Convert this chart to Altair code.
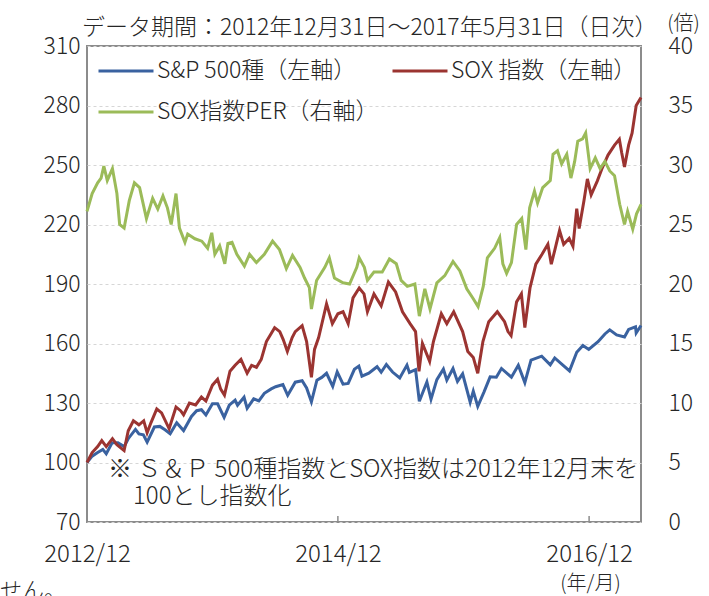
import altair as alt
import pandas as pd

# ---------------- data ----------------
series_names = ["S&P 500種（左軸）", "SOX 指数（左軸）", "SOX指数PER（右軸）"]
series_colors = ["#3A62A0", "#9B3431", "#9BBB59"]

sp_dates = [
    "2012-12-31", "2013-01-15", "2013-01-31", "2013-02-15", "2013-02-25", "2013-03-14", "2013-03-31",
    "2013-04-18", "2013-04-30", "2013-05-21", "2013-05-31", "2013-06-13", "2013-06-24", "2013-07-15",
    "2013-07-31", "2013-08-15", "2013-08-30", "2013-09-18", "2013-10-08", "2013-10-31", "2013-11-15",
    "2013-11-29", "2013-12-12", "2013-12-31", "2014-01-15", "2014-02-03", "2014-02-18", "2014-03-07",
    "2014-03-14", "2014-04-02", "2014-04-11", "2014-04-30", "2014-05-15", "2014-05-31", "2014-06-20",
    "2014-07-03", "2014-07-24", "2014-08-07", "2014-08-29", "2014-09-18", "2014-10-01", "2014-10-15",
    "2014-10-31", "2014-11-14", "2014-11-28", "2014-12-16", "2014-12-29", "2015-01-15", "2015-01-30",
    "2015-02-17", "2015-03-02", "2015-03-11", "2015-03-31", "2015-04-24", "2015-05-06", "2015-05-21",
    "2015-06-08", "2015-06-29", "2015-07-20", "2015-07-27", "2015-08-14", "2015-08-25", "2015-09-16",
    "2015-09-28", "2015-10-15", "2015-11-03", "2015-11-13", "2015-12-01", "2015-12-14", "2015-12-29",
    "2016-01-20", "2016-01-29", "2016-02-11", "2016-02-29", "2016-03-18", "2016-04-05", "2016-04-20",
    "2016-05-19", "2016-06-08", "2016-06-27", "2016-07-15", "2016-08-15", "2016-09-09", "2016-09-22",
    "2016-10-14", "2016-11-04", "2016-11-25", "2016-12-13", "2016-12-30", "2017-01-26", "2017-02-15",
    "2017-03-01", "2017-03-21", "2017-04-13", "2017-04-25", "2017-05-15", "2017-05-17", "2017-05-31",
]
sp_values = [
    100.0, 103.2, 105.0, 106.6, 104.4, 109.9, 110.0,
    108.0, 112.0, 116.7, 114.4, 114.0, 110.3, 117.9,
    118.2, 116.5, 114.5, 120.0, 116.1, 123.2, 126.1,
    126.6, 124.0, 129.6, 129.6, 122.8, 128.9, 131.4,
    128.9, 132.9, 127.3, 132.1, 131.1, 134.9, 137.1,
    138.2, 139.3, 133.9, 140.5, 141.2, 137.6, 130.6,
    141.5, 142.9, 145.0, 138.4, 145.7, 139.5, 139.9,
    147.0, 148.6, 143.5, 145.0, 148.3, 145.5, 149.4,
    145.6, 142.6, 149.1, 145.4, 146.8, 130.9, 140.6,
    131.9, 141.8, 147.1, 141.5, 147.4, 140.9, 144.7,
    130.4, 136.0, 128.3, 135.5, 143.2, 143.0, 147.4,
    143.0, 149.0, 140.3, 151.6, 153.6, 149.2, 152.7,
    149.4, 146.2, 155.6, 159.0, 157.0, 160.9, 164.8,
    166.9, 164.3, 163.3, 167.1, 168.4, 165.3, 169.1,
]

sox_dates = [
    "2012-12-31", "2013-01-15", "2013-01-31", "2013-02-12", "2013-02-25", "2013-03-15", "2013-03-28",
    "2013-04-18", "2013-04-30", "2013-05-15", "2013-05-31", "2013-06-14", "2013-06-24", "2013-07-05",
    "2013-07-22", "2013-08-05", "2013-08-27", "2013-09-16", "2013-09-30", "2013-10-08", "2013-10-25",
    "2013-11-12", "2013-11-29", "2013-12-12", "2013-12-31", "2014-01-15", "2014-01-24", "2014-02-04",
    "2014-02-20", "2014-03-07", "2014-03-24", "2014-04-11", "2014-04-24", "2014-05-08", "2014-05-22",
    "2014-06-06", "2014-06-20", "2014-06-30", "2014-07-15", "2014-07-25", "2014-08-06", "2014-08-20",
    "2014-08-29", "2014-09-18", "2014-10-01", "2014-10-15", "2014-10-24", "2014-11-05", "2014-11-28",
    "2014-12-15", "2014-12-31", "2015-01-15", "2015-01-30", "2015-02-13", "2015-03-03", "2015-03-17",
    "2015-03-27", "2015-04-15", "2015-05-06", "2015-05-27", "2015-06-17", "2015-07-07", "2015-07-29",
    "2015-08-14", "2015-08-24", "2015-09-03", "2015-09-24", "2015-10-05", "2015-10-28", "2015-11-13",
    "2015-12-03", "2015-12-29", "2016-01-13", "2016-01-29", "2016-02-11", "2016-02-26", "2016-03-14",
    "2016-04-08", "2016-04-29", "2016-05-09", "2016-05-18", "2016-06-03", "2016-06-17", "2016-06-27",
    "2016-07-12", "2016-07-29", "2016-08-16", "2016-09-02", "2016-09-12", "2016-09-22", "2016-10-06",
    "2016-10-18", "2016-11-03", "2016-11-14", "2016-11-25", "2016-12-02", "2016-12-16", "2016-12-26",
    "2017-01-06", "2017-01-24", "2017-02-06", "2017-02-24", "2017-03-15", "2017-03-29", "2017-04-05",
    "2017-04-13", "2017-04-25", "2017-05-05", "2017-05-17", "2017-05-31",
]
sox_values = [
    100, 105, 108, 111, 108, 112, 109,
    106, 116, 121, 119, 121, 115, 120,
    127, 125, 117, 128, 126, 124, 130,
    129, 133, 131, 139, 142, 137, 134,
    146, 149, 152, 145, 149, 148, 152,
    161, 165, 168, 166, 162, 156, 163,
    166, 169, 161, 143, 157, 163, 180,
    170, 175, 176, 170, 183, 188, 185,
    176, 185, 179, 191, 186, 176, 170,
    166, 146, 160, 151, 161, 175, 170,
    176, 166, 156, 153, 145, 161, 171,
    176, 171, 166, 164, 181, 185, 168,
    188, 200, 205, 210, 200, 207, 217,
    210, 213, 209, 228, 218, 232, 243,
    235, 242, 248, 255, 260, 263, 256,
    249, 260, 266, 280, 284,
]

per_dates = [
    "2012-12-31", "2013-01-15", "2013-01-31", "2013-02-10", "2013-02-18", "2013-02-28", "2013-03-15",
    "2013-03-28", "2013-04-05", "2013-04-18", "2013-05-03", "2013-05-18", "2013-06-02", "2013-06-22",
    "2013-07-10", "2013-07-25", "2013-08-09", "2013-08-22", "2013-09-02", "2013-09-16", "2013-09-26",
    "2013-10-12", "2013-10-20", "2013-11-10", "2013-11-30", "2013-12-17", "2013-12-29", "2014-01-07",
    "2014-01-21", "2014-02-05", "2014-02-14", "2014-02-26", "2014-03-12", "2014-04-03", "2014-04-18",
    "2014-05-08", "2014-05-31", "2014-06-24", "2014-07-14", "2014-08-03", "2014-08-21", "2014-09-12",
    "2014-09-25", "2014-10-09", "2014-10-15", "2014-10-30", "2014-11-23", "2014-12-06", "2014-12-21",
    "2015-01-15", "2015-02-03", "2015-02-24", "2015-03-03", "2015-03-18", "2015-03-27", "2015-04-15",
    "2015-05-09", "2015-05-30", "2015-06-19", "2015-07-03", "2015-07-21", "2015-08-12", "2015-08-25",
    "2015-09-10", "2015-09-25", "2015-10-15", "2015-11-07", "2015-12-01", "2015-12-21", "2016-01-10",
    "2016-01-28", "2016-02-12", "2016-02-27", "2016-03-10", "2016-03-31", "2016-04-15", "2016-04-24",
    "2016-05-05", "2016-05-19", "2016-06-03", "2016-06-18", "2016-06-30", "2016-07-11", "2016-07-25",
    "2016-08-03", "2016-08-18", "2016-09-09", "2016-09-17", "2016-09-30", "2016-10-12", "2016-10-27",
    "2016-11-08", "2016-11-19", "2016-11-28", "2016-12-12", "2016-12-21", "2017-01-03", "2017-01-18",
    "2017-02-01", "2017-02-15", "2017-03-01", "2017-03-15", "2017-03-30", "2017-04-13", "2017-04-22",
    "2017-05-07", "2017-05-18", "2017-05-31",
]
per_values = [
    26.1, 27.6, 28.5, 28.9, 29.9, 28.7, 29.7,
    27.6, 25.0, 24.7, 27.0, 28.5, 28.1, 25.5,
    27.2, 26.3, 27.4, 26.4, 25.0, 27.6, 24.7,
    23.5, 24.2, 23.8, 23.6, 23.0, 24.3, 22.5,
    23.2, 21.7, 23.4, 23.5, 22.5, 21.5, 22.5,
    21.8, 22.5, 23.6, 22.9, 21.3, 22.4, 21.4,
    20.5, 19.7, 17.9, 20.3, 21.4, 22.2, 20.5,
    20.1, 20.0, 21.4, 22.2, 21.4, 20.3, 21.0,
    21.0, 22.1, 21.7, 20.3, 19.8, 20.0, 17.3,
    19.6, 17.9, 20.1, 20.7, 21.9, 21.1, 19.6,
    18.8, 18.1, 19.8, 22.2, 23.0, 23.9, 21.7,
    20.9, 21.8, 25.0, 25.5, 22.9, 26.4, 27.8,
    26.8, 28.1, 28.7, 30.9, 31.2, 30.1, 30.9,
    28.9, 30.3, 32.0, 32.2, 32.7, 29.7, 30.6,
    29.7, 30.3, 29.5, 29.1, 26.7, 25.0, 26.1,
    24.6, 25.9, 26.7,
]

left_ticks = [70, 100, 130, 160, 190, 220, 250, 280, 310]
right_ticks = [0, 5, 10, 15, 20, 25, 30, 35, 40]
x_tick_years = [2012, 2014, 2016]
title_text = "データ期間：2012年12月31日～2017年5月31日（日次）"
note_lines = ["※ Ｓ＆Ｐ 500種指数とSOX指数は2012年12月末を", "100とし指数化"]
x_axis_title = "(年/月)"
right_axis_title = "(倍)"
cut_text = "せん。"

FONT = "Noto Sans CJK JP"
TXT = "#262626"
FW = 300

# ---------------- frames ----------------
df_left = pd.concat([
    pd.DataFrame({"date": sp_dates, "value": sp_values, "series": series_names[0]}),
    pd.DataFrame({"date": sox_dates, "value": sox_values, "series": series_names[1]}),
], ignore_index=True)
df_per = pd.DataFrame({"date": per_dates, "value": per_values, "series": series_names[2]})
df_ticks = pd.DataFrame({"date": [f"{y}-12-31" for y in x_tick_years[1:]]})

W, H = 554, 476

x_scale = alt.Scale(
    type="utc",
    domain=[alt.DateTime(year=2012, month=12, date=31, utc=True),
            alt.DateTime(year=2017, month=5, date=31, utc=True)],
)
x_axis = alt.Axis(
    values=[alt.DateTime(year=y, month=12, date=31, utc=True) for y in x_tick_years],
    labelExpr="utcFormat(datum.value, '%Y/%m')",
    grid=False, domain=False, ticks=False,
    labelFontSize=24, labelFontWeight=FW, labelColor=TXT, labelPadding=20, labelFlush=False,
    title=x_axis_title, titleFontSize=20, titleFontWeight=FW, titleColor=TXT,
    titleX=503, titleY=61, titleAlign="center", titleBaseline="middle", titleAngle=0,
)
X = alt.X("date:T", scale=x_scale, axis=x_axis)

color_scale = alt.Scale(domain=series_names, range=series_colors)

left = alt.Chart(df_left).mark_line(strokeWidth=3).encode(
    x=X,
    y=alt.Y("value:Q", scale=alt.Scale(domain=[70, 310], nice=False, zero=False),
            axis=alt.Axis(values=left_ticks, grid=True, gridDash=[3, 3], gridColor="#d6d6d6",
                          gridWidth=1, domain=False, ticks=False, labelFontSize=23,
                          labelFontWeight=FW, labelColor=TXT, labelPadding=7, title=None)),
    color=alt.Color("series:N", scale=color_scale,
                    legend=alt.Legend(title=None, orient="none", legendX=10, legendY=-4,
                                      direction="horizontal", columns=2, columnPadding=7,
                                      rowPadding=0, symbolType="stroke", symbolSize=3025,
                                      symbolStrokeWidth=3, labelFontSize=23, labelFontWeight=FW,
                                      labelColor=TXT, labelLimit=400, labelOffset=2)),
)

right = alt.Chart(df_per).mark_line(strokeWidth=3).encode(
    x=X,
    y=alt.Y("value:Q", scale=alt.Scale(domain=[0, 40], nice=False, zero=False),
            axis=alt.Axis(orient="right", values=right_ticks, grid=False, domain=False,
                          ticks=False, labelFontSize=23, labelFontWeight=FW, labelColor=TXT,
                          labelPadding=27, title=right_axis_title, titleAngle=0, titleFontSize=20,
                          titleFontWeight=FW, titleColor=TXT, titleX=42, titleY=-23,
                          titleAlign="center", titleBaseline="middle")),
    color=alt.Color("series:N", scale=color_scale),
)

ticks = alt.Chart(df_ticks).mark_rule(color="#8c8c8c", strokeWidth=1.5).encode(
    x=X, y=alt.value(H), y2=alt.value(H - 6),
)


def text_layer(t, x, y, size, baseline="middle"):
    return alt.Chart(pd.DataFrame({"t": [t]})).mark_text(
        align="left", baseline=baseline, fontSize=size, fontWeight=FW, color=TXT
    ).encode(text="t:N", x=alt.value(x), y=alt.value(y))


title = text_layer(title_text, -5, -18, 23)
note1 = text_layer(note_lines[0], 21, 424, 24)
note2 = text_layer(note_lines[1], 46, 451, 24)
cut = text_layer(cut_text, -87, 552, 22, baseline="alphabetic")

chart = alt.layer(left, ticks, title, note1, note2, cut, right).resolve_scale(
    y="independent"
).properties(
    width=W, height=H,
    autosize=alt.AutoSizeParams(type="none"),
    padding={"left": 87, "top": 46, "right": 68, "bottom": 74},
).configure(font=FONT).configure_view(stroke="#8c8c8c", strokeWidth=2)

chart.save("out.html", embed_options={"renderer": "svg", "actions": False})
